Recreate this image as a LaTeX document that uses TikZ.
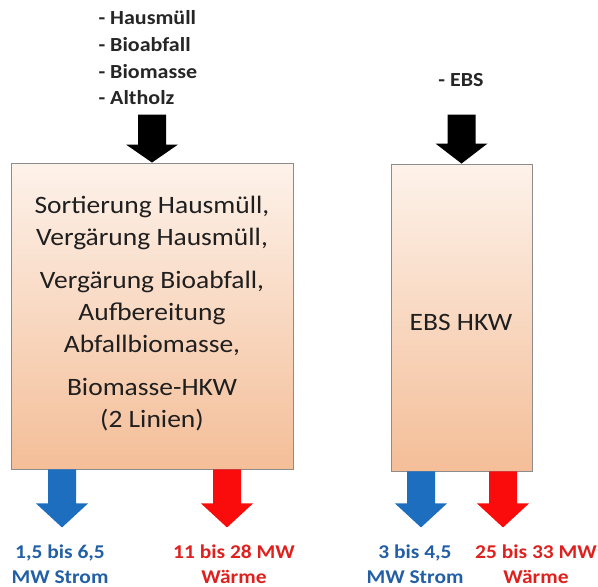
\documentclass[tikz,border=0pt]{standalone}
\usepackage{fontspec}
\setmainfont[FakeStretch=1.1]{Carlito}
\usetikzlibrary{calc}
\definecolor{boxtop}{RGB}{253,242,234}
\definecolor{boxbot}{RGB}{244,190,152}
\definecolor{boxline}{RGB}{140,140,140}
\definecolor{arrblue}{RGB}{30,110,192}
\definecolor{arrred}{RGB}{250,12,12}
\definecolor{txtblue}{RGB}{35,95,165}
\definecolor{txtred}{RGB}{222,32,30}
\tikzset{
  procbox/.style={draw=boxline, line width=0.9pt, top color=boxtop, bottom color=boxbot, inner sep=0pt},
  boxtext/.style={align=center, font=\fontsize{25}{32}\selectfont, text=black!88},
  inlist/.style={align=left, font=\bfseries\fontsize{20}{26.7}\selectfont, text=black!85},
  outlabel/.style={align=center, font=\bfseries\fontsize{19.5}{25}\selectfont},
  pics/fatarrow/.style args={#1/#2}{code={
    \fill[pic actions] (-14,0) -- (14,0) -- (14,{#1-#2}) -- (26,{#1-#2}) -- (0,#1) -- (-26,{#1-#2}) -- (-14,{#1-#2}) -- cycle;
  }}
}
\begin{document}
\begin{tikzpicture}[x=1pt,y=-1pt]
\useasboundingbox (0,0) rectangle (598,587);
% boxes
\node[procbox, minimum width=282pt, minimum height=306pt] (L) at (152,316) {};
\node[procbox, minimum width=141pt, minimum height=307pt] (R) at (461.5,317.5) {};
% box texts
\node[boxtext] (Ltxt) at (152,314) {Sortierung Hausmüll,\\Vergärung Hausmüll,\\[11pt]Vergärung Bioabfall,\\Aufbereitung\\Abfallbiomasse,\\[11pt]Biomasse-HKW\\(2 Linien)};
\node[boxtext] (Rtxt) at (461,322) {EBS HKW};
% inputs
\node[inlist, anchor=west] (Lin) at (95,58) {- Hausmüll\\- Bioabfall\\- Biomasse\\- Altholz};
\node[inlist] (Rin) at (461,80) {- EBS};
\pic[fill=black] at ([yshift=48pt]L.north) {fatarrow=48/18};
\pic[fill=black] at ([yshift=49pt]R.north) {fatarrow=49/20};
% outputs
\coordinate (Lb) at ([xshift=-90pt]L.south);
\coordinate (Lr) at ([xshift=75pt]L.south);
\coordinate (Rb) at ([xshift=-40.5pt]R.south);
\coordinate (Rr) at ([xshift=41.5pt]R.south);
\pic[fill=arrblue] at (Lb) {fatarrow=58/24};
\pic[fill=arrred] at (Lr) {fatarrow=58/24};
\pic[fill=arrblue] at (Rb) {fatarrow=56/24};
\pic[fill=arrred] at (Rr) {fatarrow=56/24};
\node[outlabel, text=txtblue] (LbT) at (60,564) {1,5 bis 6,5\\MW Strom};
\node[outlabel, text=txtred] (LrT) at (234,564) {11 bis 28 MW\\Wärme};
\node[outlabel, text=txtblue] (RbT) at (415,564) {3 bis 4,5\\MW Strom};
\node[outlabel, text=txtred] (RrT) at (536,564) {25 bis 33 MW\\Wärme};
\end{tikzpicture}
\end{document}
